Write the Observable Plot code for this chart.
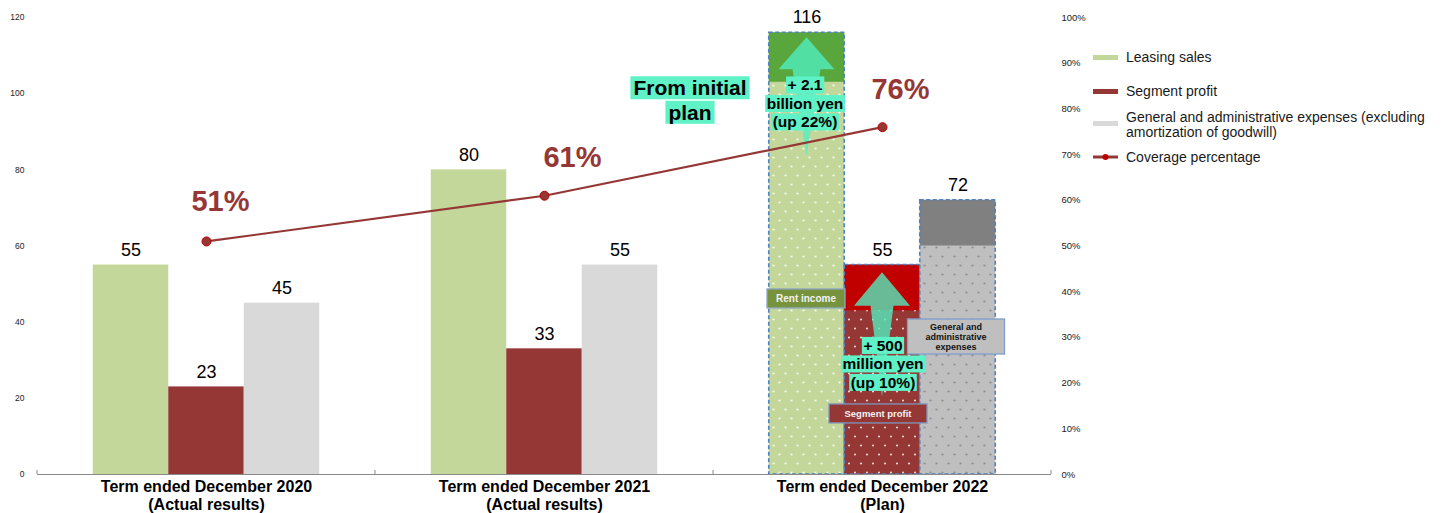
<!DOCTYPE html>
<html>
<head>
<meta charset="utf-8">
<script src="https://cdn.jsdelivr.net/npm/d3@7"></script>
<script src="https://cdn.jsdelivr.net/npm/@observablehq/plot@0.6"></script>
<style>
  body { margin: 0; background: #fff; font-family: "Liberation Sans", Arial, sans-serif; }
  #wrap { position: relative; width: 1447px; height: 513px; overflow: hidden; }
  #chart { position: absolute; left: 0; top: 0; }
  #legend { position: absolute; left: 1093px; top: 0; width: 354px; height: 513px; font-size: 14px; color: #1a1a1a; }
  .li { position: absolute; left: 0; display: flex; align-items: center; white-space: pre; line-height: 15px; }
  .sw { width: 25px; height: 5px; margin-right: 8px; flex: none; }
</style>
</head>
<body>
<svg width="0" height="0" style="position:absolute">
  <defs>
    <pattern id="dotsGreen" width="12" height="18" patternUnits="userSpaceOnUse">
      <rect width="12" height="18" fill="#c4d79b"/>
      <circle cx="3" cy="4.5" r="1" fill="#ffffff"/>
      <circle cx="9" cy="13.5" r="1" fill="#ffffff"/>
    </pattern>
    <pattern id="dotsRed" width="12" height="18" patternUnits="userSpaceOnUse">
      <rect width="12" height="18" fill="#953735"/>
      <circle cx="3" cy="4.5" r="1" fill="#f7e4e3"/>
      <circle cx="9" cy="13.5" r="1" fill="#f7e4e3"/>
    </pattern>
    <pattern id="dotsGrey" width="12" height="18" patternUnits="userSpaceOnUse">
      <rect width="12" height="18" fill="#bfbfbf"/>
      <circle cx="3" cy="4.5" r="1" fill="#858585"/>
      <circle cx="9" cy="13.5" r="1" fill="#858585"/>
    </pattern>
  </defs>
</svg>
<div id="wrap">
  <div id="chart"></div>
  <div id="legend"></div>
</div>
<script>
// ---------------- data ----------------
const terms = [
  "Term ended December 2020\n(Actual results)",
  "Term ended December 2021\n(Actual results)",
  "Term ended December 2022\n(Plan)"
];
const isPlan = [false, false, true];
const seriesNames = [
  "Leasing sales",
  "Segment profit",
  "General and administrative expenses (excluding amortization of goodwill)",
  "Coverage percentage"
];
const leasingSales = [55, 80, 116];
const segmentProfit = [23, 33, 55];
const gaExpenses = [45, 55, 72];
const coveragePct = [51, 61, 76];
// 2022 plan: value where the highlighted increase portion starts (leasing, profit, G&A)
const planIncreaseFrom = [103, 43, 60];
const leftTicks = [0, 20, 40, 60, 80, 100, 120];
const rightTicks = [0, 10, 20, 30, 40, 50, 60, 70, 80, 90, 100];

// annotation content
const upArrows = [
  {term: terms[2], series: 0, tip: 114.7, head: 106.3, tail: 83.5},
  {term: terms[2], series: 1, tip: 53.0, head: 44.2, tail: 20.3}
];
const noteInitial = ["From initial", "plan"];
const noteLeasing = ["+ 2.1", "billion yen", "(up 22%)"];
const noteProfit = ["+ 500", "million yen", "(up 10%)"];
const boxRent = ["Rent income"];
const boxProfit = ["Segment profit"];
const boxGA = ["General and", "administrative", "expenses"];

// ---------------- chart ----------------
const W = 1090, H = 513, ML = 37, MR = 39, MT = 17, MB = 39;
const barW = 75.5;
const bw = (W - ML - MR) / terms.length;
const inset = (bw - barW) / 2;
const pctToY = 1.2; // 100% on right axis == 120 on left axis

const rows = terms.map((term, i) => ({
  term, plan: isPlan[i],
  leasing: leasingSales[i], profit: segmentProfit[i], ga: gaExpenses[i],
  coverage: coveragePct[i]
}));
const actualRows = rows.filter(d => !d.plan);
const planRows = rows.filter(d => d.plan);
const keys = ["leasing", "profit", "ga"];
const solid = ["#c4d79b", "#953735", "#d9d9d9"];
const patterns = ["url(#dotsGreen)", "url(#dotsRed)", "url(#dotsGrey)"];
const topColors = ["#58a63c", "#c00000", "#808080"];

const marks = [];
keys.forEach((k, j) => {
  const common = {x: "term", insetLeft: inset, insetRight: inset, dx: (j - 1) * barW};
  marks.push(Plot.barY(actualRows, {...common, y: k, fill: solid[j]}));
  marks.push(Plot.barY(planRows, {...common, y: k, fill: patterns[j]}));
  marks.push(Plot.barY(planRows, {...common, y1: () => planIncreaseFrom[j], y2: k, fill: topColors[j]}));
  marks.push(Plot.barY(planRows, {...common, y: k, fill: "none", stroke: "#4f81bd", strokeWidth: 1.6, strokeDasharray: "4,2.5"}));
});
marks.push(Plot.ruleY([0], {stroke: "#8a8a8a", strokeWidth: 1}));
keys.forEach((k, j) => {
  marks.push(Plot.text(rows, {x: "term", y: k, text: k, dx: (j - 1) * barW, dy: -15, fontSize: 18, fill: "#000"}));
});
marks.push(Plot.line(rows, {x: "term", y: d => d.coverage * pctToY, stroke: "#953735", strokeWidth: 2.2}));
marks.push(Plot.dot(rows, {x: "term", y: d => d.coverage * pctToY, r: 4.5, fill: "#953735", stroke: "#c00000", strokeWidth: 1}));
const pctOffsets = [[14, -40], [28, -38], [18, -37]];
rows.forEach((r, i) => {
  marks.push(Plot.text([r], {x: "term", y: d => d.coverage * pctToY, text: d => d.coverage + "%",
    dx: pctOffsets[i][0], dy: pctOffsets[i][1], fontSize: 29, fontWeight: "bold", fill: "#953735"}));
});
marks.push(Plot.axisX({tickSize: 0, tickPadding: 5.5, fontSize: 16, fontWeight: "bold", lineHeight: 1.08, color: "#000", label: null}));
marks.push(Plot.axisY({anchor: "left", ticks: leftTicks, tickSize: 0, tickPadding: 13, fontSize: 8.5, color: "#222", label: null}));
marks.push(Plot.axisY({anchor: "right", ticks: rightTicks.map(p => p * pctToY), tickFormat: d => Math.round(d / pctToY) + "%",
  tickSize: 0, tickPadding: 10, fontSize: 9.5, color: "#222", label: null}));

const chart = Plot.plot({
  width: W, height: H,
  marginLeft: ML, marginRight: MR, marginTop: MT, marginBottom: MB,
  x: {domain: terms, padding: 0, round: false, label: null},
  y: {domain: [0, 120], label: null},
  style: {fontFamily: "'Liberation Sans', Arial, sans-serif", background: "transparent", overflow: "visible"},
  marks
});
document.getElementById("chart").append(chart);

// ---------------- annotations (positioned through Plot's scales) ----------------
const sx = chart.scale("x"), sy = chart.scale("y");
const xc = (term, j = 1, off = 0) => sx.apply(term) + sx.bandwidth / 2 + (j - 1) * barW + off;
const yv = v => sy.apply(v);
const svg = d3.select(chart);

// small ticks at band boundaries on the baseline
const tickG = svg.append("g").attr("stroke", "#8a8a8a");
[...terms.map(t => sx.apply(t)), sx.apply(terms[terms.length - 1]) + sx.bandwidth].forEach(x => {
  tickG.append("line").attr("x1", x).attr("x2", x).attr("y1", yv(0)).attr("y2", yv(0) - 4);
});

// fat up arrows, drawn beneath the coverage line
const lineG = chart.querySelector('g[aria-label="line"]');
const arrowG = d3.create("svg:g").attr("fill", "#4ff0c0").attr("fill-opacity", 0.78);
chart.insertBefore(arrowG.node(), lineG);
const headW = 56, shaftW = [28, 23];
upArrows.forEach((a, i) => {
  const cx = xc(a.term, a.series);
  const yt = yv(a.tip), yh = yv(a.head), ye = yv(a.tail);
  const hw = headW / 2, sw = shaftW[i] / 2;
  arrowG.append("path").attr("d",
    `M${cx},${yt}L${cx + hw},${yh}L${cx + sw},${yh}L${cx},${ye}L${cx - sw},${yh}L${cx - hw},${yh}Z`);
});

// text with highlight boxes
const annG = svg.append("g").attr("font-family", "'Liberation Sans', Arial, sans-serif");
function highlightText(lines, cx, cy, {fontSize, gap, bg, padX = 1.5, padY = 0, color = "#000"}) {
  const n = lines.length;
  lines.forEach((s, i) => {
    const y = cy + (i - (n - 1) / 2) * gap;
    const t = annG.append("text").attr("x", cx).attr("y", y)
      .attr("text-anchor", "middle").attr("dominant-baseline", "central")
      .attr("font-size", fontSize).attr("font-weight", "bold").attr("fill", color).text(s);
    const b = t.node().getBBox();
    annG.insert("rect", () => t.node())
      .attr("x", b.x - padX).attr("y", b.y - padY)
      .attr("width", b.width + 2 * padX).attr("height", b.height + 2 * padY)
      .attr("fill", bg);
  });
}
function boxLabel(lines, cx, cy, w, h, {fill, stroke, color, fontSize, gap}) {
  annG.append("rect").attr("x", cx - w / 2).attr("y", cy - h / 2).attr("width", w).attr("height", h)
    .attr("fill", fill).attr("stroke", stroke).attr("stroke-width", 1.3);
  const n = lines.length;
  lines.forEach((s, i) => {
    annG.append("text").attr("x", cx).attr("y", cy + (i - (n - 1) / 2) * gap)
      .attr("text-anchor", "middle").attr("dominant-baseline", "central")
      .attr("font-size", fontSize).attr("font-weight", "bold").attr("fill", color).text(s);
  });
}
const plan = terms[2];
highlightText(noteInitial, xc(plan, 1, -192), yv(98.2), {fontSize: 21, gap: 24.5, bg: "#5ef2c6", padX: 3});
highlightText(noteLeasing, xc(plan, 0, -1.5), yv(97.3), {fontSize: 15.5, gap: 18.5, bg: "#5ef2c6"});
highlightText(noteProfit, xc(plan, 1, 1), yv(28.9), {fontSize: 15.5, gap: 18.5, bg: "#5ef2c6"});
boxLabel(boxRent, xc(plan, 0, -0.5), yv(46.1), 78, 19, {fill: "#77933c", stroke: "#8ea6c9", color: "#f2f2f2", fontSize: 10, gap: 11});
boxLabel(boxProfit, xc(plan, 1, -4), yv(15.9), 98, 19, {fill: "#953735", stroke: "#7f97c0", color: "#f2f2f2", fontSize: 9.5, gap: 11});
boxLabel(boxGA, xc(plan, 2, -1.5), yv(36.1), 97, 35, {fill: "#bfbfbf", stroke: "#7f9fd0", color: "#111", fontSize: 9, gap: 10});

// ---------------- legend ----------------
const legendLabels = [
  seriesNames[0], seriesNames[1],
  "General and administrative expenses (excluding\namortization of goodwill)",
  seriesNames[3]
];
const legendCenters = [57, 91, 125, 157];
const legend = d3.select("#legend");
legendLabels.forEach((lab, i) => {
  const item = legend.append("div").attr("class", "li").style("top", (legendCenters[i] - 16) + "px").style("height", "32px");
  if (i < 3) {
    item.append("div").attr("class", "sw").style("background", solid[i]).style("margin-top", i === 2 ? "-3px" : "0px");
  } else {
    const s = item.append("svg").attr("width", 25).attr("height", 8).style("margin-right", "8px");
    s.append("line").attr("x1", 0).attr("x2", 25).attr("y1", 4).attr("y2", 4).attr("stroke", "#953735").attr("stroke-width", 3);
    s.append("circle").attr("cx", 12.5).attr("cy", 4).attr("r", 3).attr("fill", "#c00000");
  }
  item.append("span").text(lab);
});
</script>
</body>
</html>
